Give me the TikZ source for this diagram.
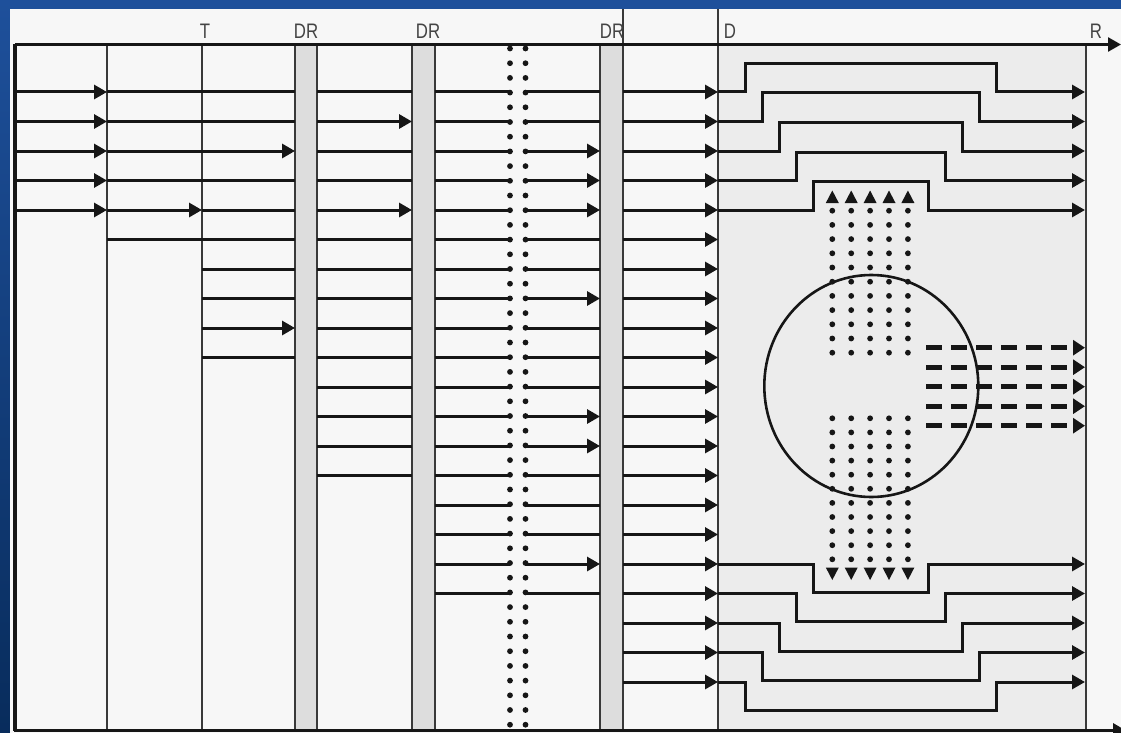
\documentclass[tikz,border=0pt]{standalone}
\usepackage{fontspec}
\setmainfont{Liberation Sans}
\usepackage{graphicx}
\usetikzlibrary{arrows.meta}

\definecolor{bgtop}{RGB}{30,80,155}
\definecolor{bgbot}{RGB}{8,44,92}
\definecolor{paper}{RGB}{247,247,247}
\definecolor{zone}{RGB}{236,236,236}
\definecolor{band}{RGB}{221,221,221}
\definecolor{ink}{RGB}{22,22,22}
\definecolor{labelgray}{RGB}{68,68,68}

\newcommand{\narrow}[1]{\scalebox{0.8}[1]{#1}}

\begin{document}
\begin{tikzpicture}[
    x=1pt, y=-1pt,
    rowline/.style={draw=ink, line width=3pt},
    rowarrow/.style={rowline, -{Triangle[length=13pt,width=14pt]}},
    vline/.style={draw=ink!85, line width=1.8pt},
    bandbox/.style={fill=band},
    lbl/.style={anchor=base, inner sep=0pt, text=labelgray, font=\fontsize{21}{21}\selectfont},
    dot/.style={fill=ink},
    flowdash/.style={draw=ink, line width=4.8pt, dash pattern=on 15.7pt off 9.3pt, -{Triangle[length=12pt,width=15pt]}},
]
\useasboundingbox (0,0) rectangle (1121,733);

% Background and paper
\shade[top color=bgtop, bottom color=bgbot] (0,0) rectangle (1121,733);
\fill[paper] (10,9) rectangle (1121,733);
\fill[zone] (718,44.5) rectangle (1086,730.5);

% Grey DR bands
\fill[bandbox] (295,44.5) rectangle (317,730.5);
\fill[bandbox] (412,44.5) rectangle (435,730.5);
\fill[bandbox] (600,44.5) rectangle (623,730.5);

% Vertical lines
\foreach \xx in {107,202,295,317,412,435,600}
  \draw[vline] (\xx,44.5) -- (\xx,730.5);
\draw[vline, line width=2.8pt] (623,9) -- (623,730.5);
\draw[vline] (718,9) -- (718,730.5);
\draw[vline, line width=2.6pt] (1086,44.5) -- (1086,730.5);
\draw[rowline, line width=3.4pt] (15,44.5) -- (15,730.5);

% Axes
\draw[rowarrow, line width=2.6pt] (15,44.5) -- (1121,44.5);
\draw[rowarrow, line width=3.2pt] (14,730.5) -- (1126,730.5);

% Labels
\node[lbl] (lblT) at (205,39) {\narrow{T}};
\node[lbl] (lblDRa) at (306,39) {\narrow{DR}};
\node[lbl] (lblDRb) at (428,39) {\narrow{DR}};
\node[lbl] (lblDRc) at (612,39) {\narrow{DR}};
\node[lbl] (lblD) at (730,39) {\narrow{D}};
\node[lbl] (lblR) at (1096,39) {\narrow{R}};

% Column A
\foreach \k [evaluate=\k as \yy using 92+29.5*\k] in {0,...,4}
  \draw[rowarrow] (15,\yy) -- (107,\yy);

% Columns B and C
\foreach \k [evaluate=\k as \yy using 92+29.5*\k] in {0,1,3,5}
  \draw[rowline] (107,\yy) -- (295,\yy);
\draw[rowarrow] (107,151) -- (295,151);
\draw[rowarrow] (107,210) -- (202,210);
\draw[rowline] (202,210) -- (295,210);
\foreach \k [evaluate=\k as \yy using 92+29.5*\k] in {6,7,9}
  \draw[rowline] (202,\yy) -- (295,\yy);
\draw[rowarrow] (202,328) -- (295,328);

% Column D
\foreach \k [evaluate=\k as \yy using 92+29.5*\k] in {0,2,3,5,6,...,13}
  \draw[rowline] (317,\yy) -- (412,\yy);
\foreach \k [evaluate=\k as \yy using 92+29.5*\k] in {1,4}
  \draw[rowarrow] (317,\yy) -- (412,\yy);

% Columns E and F (either side of the dotted pair)
\foreach \k [evaluate=\k as \yy using 92+29.5*\k] in {0,...,17}
  \draw[rowline] (435,\yy) -- (510,\yy);
\foreach \k [evaluate=\k as \yy using 92+29.5*\k] in {0,1,5,6,8,9,10,13,14,15,17}
  \draw[rowline] (525.5,\yy) -- (600,\yy);
\foreach \k [evaluate=\k as \yy using 92+29.5*\k] in {2,3,4,7,11,12,16}
  \draw[rowarrow] (525.5,\yy) -- (600,\yy);

% Column G
\foreach \k [evaluate=\k as \yy using 92+29.5*\k] in {0,...,20}
  \draw[rowarrow] (623,\yy) -- (718,\yy);

% Dotted pair
\foreach \j [evaluate=\j as \yy using 48.5+14.7*\j] in {0,...,46} {
  \fill[dot] (510,\yy) circle[radius=2.9pt];
  \fill[dot] (525.5,\yy) circle[radius=2.9pt];
}

% Stepped paths, top
\foreach \i [evaluate=\i as \yy using 92+29.5*\i,
             evaluate=\i as \xl using 745+17.2*\i,
             evaluate=\i as \xr using 996-17*\i] in {0,...,4}
  \draw[rowarrow] (718,\yy) -| (\xl,\yy-28.5) -| (\xr,\yy) -- (1085,\yy);

% Stepped paths, bottom
\foreach \i [evaluate=\i as \yy using 682-29.5*\i,
             evaluate=\i as \xl using 745+17.2*\i,
             evaluate=\i as \xr using 996-17*\i] in {0,...,4}
  \draw[rowarrow] (718,\yy) -| (\xl,\yy+28) -| (\xr,\yy) -- (1085,\yy);

% Dot grids with heads
\foreach \c [evaluate=\c as \xx using 832.3+18.9*\c] in {0,...,4} {
  \foreach \m in {0,...,10} {
    \fill[dot] (\xx,210.7+14.2*\m) circle[radius=2.9pt];
    \fill[dot] (\xx,418.3+14.1*\m) circle[radius=2.9pt];
  }
  \fill[ink] (\xx-6.5,203) -- (\xx+6.5,203) -- (\xx,190.5) -- cycle;
  \fill[ink] (\xx-6.5,567.5) -- (\xx+6.5,567.5) -- (\xx,580) -- cycle;
}

% Circle
\draw[ink, line width=2.6pt] (871.3,386) ellipse[x radius=107, y radius=111];

% Dashed flow arrows
\foreach \i [evaluate=\i as \yy using 347.7+19.5*\i] in {0,...,4}
  \draw[flowdash] (926,\yy) -- (1085,\yy);
\end{tikzpicture}
\end{document}
